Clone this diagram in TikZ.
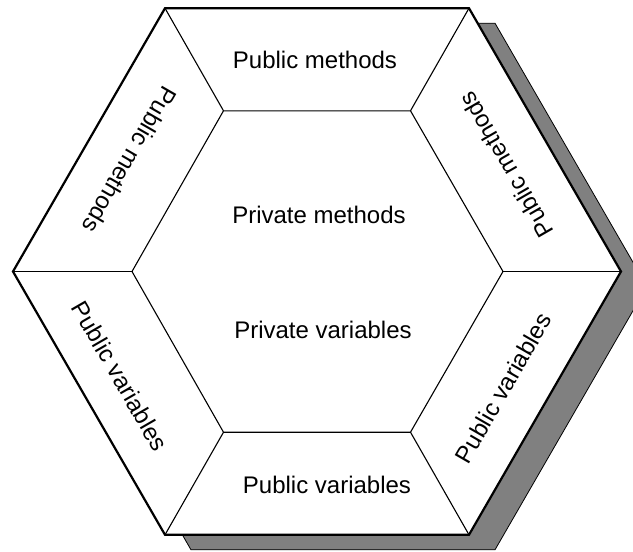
\documentclass[tikz,border=0pt]{standalone}
\usepackage{fontspec}
\setmainfont{Liberation Sans}
\usetikzlibrary{calc}
\begin{document}
\begin{tikzpicture}[x=1pt,y=-1pt,
  outerhex/.style={line width=2.2pt, line join=miter, fill=white},
  innerhex/.style={line width=1.1pt},
  spoke/.style={line width=1.1pt},
  shadowhex/.style={fill=black!50, draw=black, line width=0.8pt},
  lbl/.style={font=\fontsize{24}{28}\selectfont, inner sep=0pt}]
\useasboundingbox (0,0) rectangle (633,552);
\clip (0,0) rectangle (633,552);
% outer hexagon vertices
\coordinate (O0) at (621,271.5);
\coordinate (O1) at (469,8.2);
\coordinate (O2) at (165,8.2);
\coordinate (O3) at (13,271.5);
\coordinate (O4) at (165,534.8);
\coordinate (O5) at (469,534.8);
% inner hexagon vertices
\coordinate (I0) at (503,271.5);
\coordinate (I1) at (410.5,110.8);
\coordinate (I2) at (223.5,110.8);
\coordinate (I3) at (132,271.5);
\coordinate (I4) at (223.5,432.2);
\coordinate (I5) at (410.5,432.2);
% shadow vertices
\foreach \k in {0,...,5} { \coordinate (S\k) at ($(O\k)+(26,15)$); }
% shadow
\draw[shadowhex] (S0) -- (S1) -- (S2) -- (S3) -- (S4) -- (S5) -- cycle;
% outer hexagon
\draw[outerhex] (O0) -- (O1) -- (O2) -- (O3) -- (O4) -- (O5) -- cycle;
% spokes
\foreach \k in {0,...,5} { \draw[spoke] (O\k) -- (I\k); }
% inner hexagon
\draw[innerhex] (I0) -- (I1) -- (I2) -- (I3) -- (I4) -- (I5) -- cycle;
% labels
\node[lbl, anchor=base] (t1) at (315,68) {Public methods};
\node[lbl, anchor=base] (t2) at (319,223) {Private methods};
\node[lbl, anchor=base] (t3) at (323,338) {Private variables};
\node[lbl, anchor=base] (t4) at (327,493) {Public variables};
\node[lbl, rotate=240] (t5) at (130,160) {Public methods};
\node[lbl, rotate=120] (t6) at (506,165) {Public methods};
\node[lbl, rotate=-60] (t7) at (120,376) {Public variables};
\node[lbl, rotate=60] (t8) at (503,388) {Public variables};
\end{tikzpicture}
\end{document}
